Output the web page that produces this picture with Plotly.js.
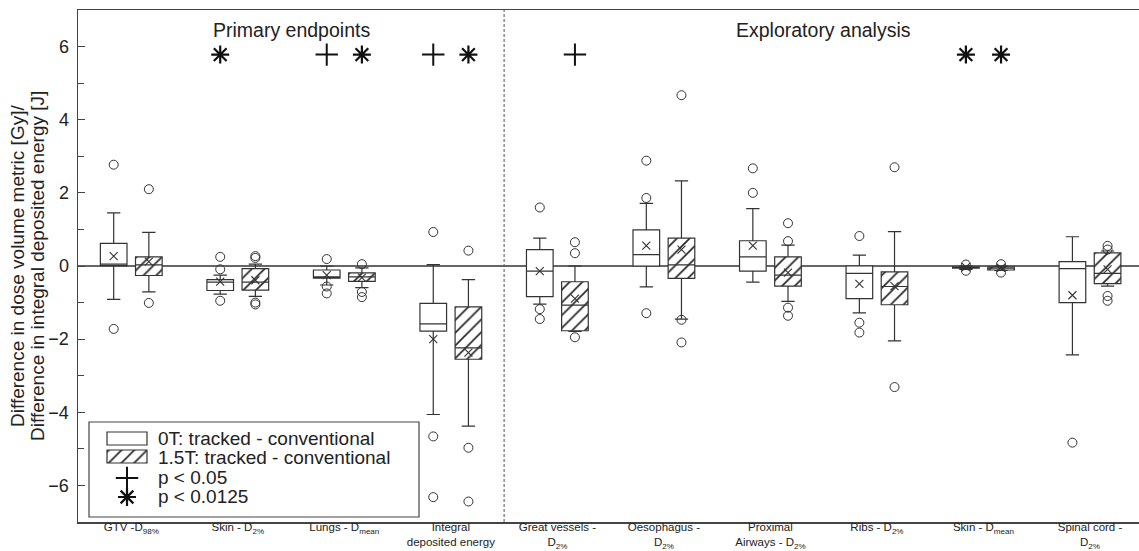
<!DOCTYPE html>
<html>
<head>
<meta charset="utf-8">
<script src="https://cdn.plot.ly/plotly-3.0.1.min.js"></script>
<style>html,body{margin:0;padding:0;background:#fff;overflow:hidden}</style>
</head>
<body>
<div id="chart" style="width:1139px;height:551px"></div>
<script>
// ---------- data ----------
const categories = [
  "GTV -D<sub>98%</sub>", "Skin - D<sub>2%</sub>", "Lungs - D<sub>mean</sub>",
  "Integral<br>deposited energy", "Great vessels -<br>D<sub>2%</sub>", "Oesophagus -<br>D<sub>2%</sub>",
  "Proximal<br>Airways - D<sub>2%</sub>", "Ribs - D<sub>2%</sub>", "Skin - D<sub>mean</sub>",
  "Spinal cord -<br>D<sub>2%</sub>"
];
// 0T: tracked - conventional
const q1_0T   = [0.01, -0.67, -0.33, -1.78, -0.84, 0.00, -0.14, -0.89, -0.06, -1.00];
const med_0T  = [0.05, -0.44, -0.30, -1.58, -0.14, 0.31,  0.25, -0.20, -0.04, -0.07];
const q3_0T   = [0.62, -0.37, -0.11, -1.02,  0.45, 0.99,  0.69,  0.00, -0.02,  0.12];
const lo_0T   = [-0.91, -0.77, -0.52, -4.06, -1.04, -0.57, -0.44, -1.28, -0.09, -2.43];
const hi_0T   = [1.45, -0.25, 0.00, 0.04, 0.76, 1.71, 1.57, 0.30, 0.00, 0.80];
const mean_0T = [0.27, -0.43, -0.25, -2.00, -0.14, 0.56, 0.56, -0.49, -0.03, -0.80];
const out_0T  = [[2.77, -1.72], [0.25, -0.09, -0.95], [0.19, -0.56, -0.75], [0.93, -4.66, -6.32],
                 [1.60, -1.18, -1.45], [2.88, 1.86, -1.29], [2.67, 2.00], [0.82, -1.55, -1.82],
                 [0.04, -0.13], [-4.83]];
// 1.5T: tracked - conventional
const q1_15T   = [-0.26, -0.66, -0.42, -2.55, -1.77, -0.34, -0.55, -1.06, -0.11, -0.48];
const med_15T  = [0.03, -0.44, -0.30, -2.24, -1.07, 0.03, -0.25, -0.56, -0.06, -0.20];
const q3_15T   = [0.25, -0.07, -0.19, -1.12, -0.43, 0.76, 0.25, -0.16, -0.02, 0.36];
const lo_15T   = [-0.71, -0.83, -0.59, -4.38, -1.79, -1.45, -0.97, -2.05, -0.12, -0.55];
const hi_15T   = [0.92, 0.05, -0.05, -0.37, 0.00, 2.33, 0.57, 0.94, 0.00, 0.41];
const mean_15T = [0.12, -0.39, -0.32, -2.37, -0.89, 0.45, -0.18, -0.55, -0.05, -0.09];
const out_15T  = [[2.10, -1.01], [0.27, 0.22, -1.00, -1.05], [0.05, -0.71, -0.85], [0.42, -4.97, -6.44],
                  [0.65, 0.35, -1.95], [4.67, -1.47, -2.09], [1.17, 0.68, -1.14, -1.36], [2.70, -3.31],
                  [0.05, -0.18], [0.55, 0.45, -0.82, -0.95]];
// significance markers ('+' p<0.05, '*' p<0.0125)
const sig_0T  = ["", "*", "+", "+", "", "", "", "", "*", ""];
const sig_15T = ["", "", "*", "*", "+", "", "", "", "*", ""];
const sigLevel = 5.78;
const legendLabels = ["0T: tracked - conventional", "1.5T: tracked - conventional", "p < 0.05", "p < 0.0125"];
const sectionLabels = ["Primary endpoints", "Exploratory analysis"];
const yTitleLines = ["Difference in dose volume metric [Gy]/", "Difference in integral deposited energy [J]"];

// ---------- style ----------
const INK = "#333";
const FONT = "Liberation Sans, Arial, sans-serif";
const OFF = 0.165, BW = 0.25;
const idx = categories.map((_, i) => i);
const pos0 = idx.map(i => i - OFF);
const pos15 = idx.map(i => i + OFF);

function flatOut(out, pos) {
  const xs = [], ys = [];
  out.forEach((arr, i) => arr.forEach(v => { xs.push(pos[i]); ys.push(v); }));
  return {xs, ys};
}
function sigPts(sig, pos, s) {
  const xs = [];
  sig.forEach((m, i) => { if (m === s) xs.push(pos[i]); });
  return xs;
}
const o0 = flatOut(out_0T, pos0), o15 = flatOut(out_15T, pos15);
const plusX = sigPts(sig_0T, pos0, "+").concat(sigPts(sig_15T, pos15, "+"));
const starX = sigPts(sig_0T, pos0, "*").concat(sigPts(sig_15T, pos15, "*"));

const hatch = {shape: "/", fgcolor: "#222", bgcolor: "white", size: 9, solidity: 0.18, fillmode: "replace"};

const traces = [
  {type: "bar", x: pos15, base: q1_15T, y: q3_15T.map((v, i) => v - q1_15T[i]), width: BW,
   marker: {color: "white", line: {width: 0}, pattern: hatch}, hoverinfo: "skip", showlegend: false},
  {type: "box", orientation: "v", x: pos0, q1: q1_0T, median: med_0T, q3: q3_0T,
   lowerfence: lo_0T, upperfence: hi_0T, width: BW, whiskerwidth: 0.5, boxpoints: false,
   fillcolor: "white", line: {color: INK, width: 1.2}, showlegend: false},
  {type: "box", orientation: "v", x: pos15, q1: q1_15T, median: med_15T, q3: q3_15T,
   lowerfence: lo_15T, upperfence: hi_15T, width: BW, whiskerwidth: 0.5, boxpoints: false,
   fillcolor: "rgba(0,0,0,0)", line: {color: INK, width: 1.2}, showlegend: false},
  {type: "scatter", mode: "markers", x: pos0.concat(pos15), y: mean_0T.concat(mean_15T),
   marker: {symbol: "x-thin-open", size: 8, color: INK, line: {color: INK, width: 1.1}}, showlegend: false},
  {type: "scatter", mode: "markers", x: o0.xs.concat(o15.xs), y: o0.ys.concat(o15.ys),
   marker: {symbol: "circle-open", size: 9, color: INK, line: {color: INK, width: 1}}, showlegend: false},
  {type: "scatter", mode: "markers", x: plusX, y: plusX.map(() => sigLevel),
   marker: {symbol: "cross-thin-open", size: 16, color: "#111", line: {color: "#111", width: 2}}, showlegend: false},
  {type: "scatter", mode: "markers", x: starX, y: starX.map(() => sigLevel),
   marker: {symbol: "asterisk-open", size: 15, color: "#111", line: {color: "#111", width: 2.2}}, showlegend: false},
  // legend items (pixel-space overlay axes)
  {type: "bar", xaxis: "x2", yaxis: "y2", x: [127], base: [450], y: [13], width: [40],
   marker: {color: "white", line: {width: 0}, pattern: hatch}, hoverinfo: "skip", showlegend: false},
  {type: "scatter", mode: "markers", xaxis: "x2", yaxis: "y2", x: [127], y: [478],
   marker: {symbol: "cross-thin-open", size: 16, color: "#111", line: {color: "#111", width: 2}}, showlegend: false},
  {type: "scatter", mode: "markers", xaxis: "x2", yaxis: "y2", x: [127], y: [497],
   marker: {symbol: "asterisk-open", size: 15, color: "#111", line: {color: "#111", width: 2.2}}, showlegend: false}
];

const legendRows = [438, 457, 477, 496];
const yTitleX = [17, 37];
const annotations = [
  {xref: "x", yref: "y", x: 1.5, y: 6.45, text: sectionLabels[0], showarrow: false, font: {size: 19.5, color: "#222"}},
  {xref: "x", yref: "y", x: 6.5, y: 6.45, text: sectionLabels[1], showarrow: false, font: {size: 19.5, color: "#222"}}
].concat(yTitleLines.map((t, k) => ({xref: "paper", yref: "paper", x: (yTitleX[k] - 78) / 1061, y: 0.5,
   textangle: -90, xanchor: "center", yanchor: "middle", text: t, showarrow: false,
   font: {size: 19, color: "#222"}})))
 .concat(legendLabels.map((t, k) => ({xref: "x2", yref: "y2", x: 156, y: legendRows[k], xanchor: "left",
   yanchor: "middle", text: t, showarrow: false, font: {size: 19, color: "#222"}})));

const shapes = [
  {type: "line", xref: "x", yref: "paper", x0: 3.5, x1: 3.5, y0: 0, y1: 1,
   line: {color: "#555", width: 1, dash: "3px,2px"}},
  {type: "rect", xref: "x2", yref: "y2", x0: 89, x1: 419, y0: 422, y1: 517, layer: "below",
   fillcolor: "white", line: {color: "#444", width: 1.2}},
  {type: "rect", xref: "x2", yref: "y2", x0: 107, x1: 147, y0: 432, y1: 445,
   fillcolor: "white", line: {color: INK, width: 1.2}},
  {type: "rect", xref: "x2", yref: "y2", x0: 107, x1: 147, y0: 450, y1: 463,
   fillcolor: "rgba(0,0,0,0)", line: {color: INK, width: 1.2}}
];

const layout = {
  width: 1139, height: 551,
  margin: {l: 78, r: 0, t: 10, b: 29, pad: 0},
  paper_bgcolor: "white", plot_bgcolor: "white",
  font: {family: FONT, color: "#222"},
  showlegend: false,
  barmode: "overlay",
  xaxis: {range: [-0.5, 9.46], tickmode: "array", tickvals: idx, ticktext: categories,
          ticks: "", showgrid: false, zeroline: false, showline: true, mirror: true,
          linecolor: "#444", linewidth: 1.5, tickfont: {size: 11.5, family: FONT, color: "#222"},
          ticklabelstandoff: -6, fixedrange: true},
  yaxis: {range: [-7, 7], tickmode: "array", tickvals: [-6, -4, -2, 0, 2, 4, 6],
          ticks: "inside", ticklen: 7, tickcolor: "#444", tickwidth: 1,
          minor: {dtick: 1, ticks: "inside", ticklen: 6, tickcolor: "#444"},
          showgrid: false, showline: true, linecolor: "#444", linewidth: 1.5,
          zeroline: true, zerolinecolor: "#666", zerolinewidth: 1.4,
          tickfont: {size: 18, family: FONT, color: "#222"}, ticklabelstandoff: 4, fixedrange: true},
  xaxis2: {overlaying: "x", anchor: "y2", range: [78, 1139], visible: false, fixedrange: true},
  yaxis2: {overlaying: "y", anchor: "x2", range: [522, 10], visible: false, fixedrange: true},
  annotations: annotations,
  shapes: shapes
};

Plotly.newPlot("chart", traces, layout, {displayModeBar: false, staticPlot: true});
</script>
</body>
</html>
